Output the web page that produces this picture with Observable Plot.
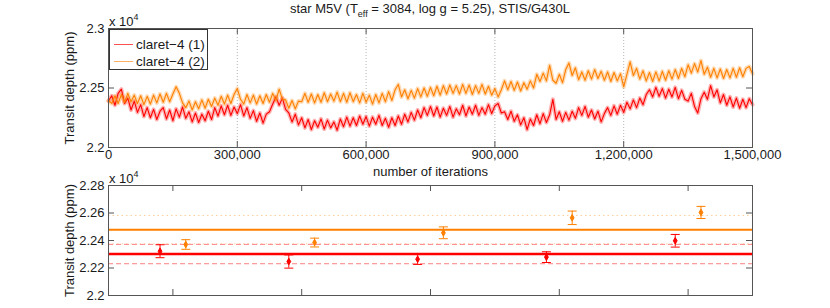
<!DOCTYPE html>
<html><head><meta charset="utf-8">
<script src="https://cdn.jsdelivr.net/npm/d3@7"></script>
<script src="https://cdn.jsdelivr.net/npm/@observablehq/plot@0.6"></script>
<style>
body{margin:0;background:#fff;}
#wrap{position:relative;width:830px;height:308px;font-family:"Liberation Sans",Arial,sans-serif;color:#1a1a1a;overflow:hidden;}
#wrap svg{position:absolute;left:0;top:0;}
.lbl{position:absolute;font-size:13px;white-space:nowrap;line-height:1;}
.sup{font-size:9px;position:relative;top:-6px;}
.sub{font-size:9px;position:relative;top:4px;}
#legend{position:absolute;left:109px;top:29px;width:97px;height:39px;border:1px solid #333;background:#fff;}
.leg{position:absolute;left:4px;font-size:13.5px;line-height:1;white-space:nowrap;}
.leg i{display:inline-block;width:19px;height:0;border-top:1px solid;vertical-align:middle;margin-right:3px;position:relative;top:-1px;}
</style></head><body>
<div id="wrap"></div>
<script>
// ---------- data ----------
const seriesNames = ["claret\u22124 (1)", "claret\u22124 (2)"];
const seriesColors = ["#ff0000", "#ff8000"];
const sampleStep = 7500; // iterations between samples
const redTrace = [
22390,22435,22355,22455,22490,22370,22415,22315,22390,22295,
22360,22260,22335,22250,22320,22235,22305,22335,22240,22315,
22225,22325,22255,22340,22245,22300,22215,22290,22210,22280,
22225,22305,22235,22335,22265,22350,22275,22355,22270,22340,
22285,22360,22265,22335,22245,22310,22220,22290,22205,22280,
22300,22365,22425,22355,22415,22320,22290,22215,22280,22190,
22250,22165,22235,22150,22225,22170,22240,22155,22230,22165,
22215,22145,22240,22175,22255,22180,22250,22185,22265,22195,
22260,22180,22255,22195,22270,22185,22245,22170,22250,22185,
22265,22195,22280,22215,22295,22230,22315,22250,22335,22270,
22345,22265,22340,22255,22330,22270,22345,22255,22325,22275,
22355,22265,22340,22280,22355,22270,22335,22280,22360,22285,
22350,22370,22290,22300,22235,22305,22220,22275,22190,22250,
22150,22240,22185,22275,22200,22285,22210,22275,22405,22235,
22300,22220,22295,22230,22305,22245,22335,22270,22345,22255,
22315,22240,22305,22215,22285,22335,22270,22350,22280,22355,
22295,22380,22325,22400,22335,22415,22360,22445,22485,22425,
22505,22430,22495,22415,22490,22425,22505,22410,22480,22405,
22390,22455,22345,22290,22410,22465,22405,22520,22425,22485,
22375,22445,22355,22425,22340,22415,22330,22405,22335,22410,
22360];
const orangeTrace = [
22395,22370,22435,22370,22445,22380,22455,22385,22440,22370,
22435,22360,22430,22365,22440,22375,22450,22380,22455,22385,
22450,22510,22455,22375,22335,22390,22315,22385,22325,22400,
22330,22405,22345,22415,22355,22430,22365,22440,22370,22445,
22495,22405,22365,22445,22375,22440,22365,22435,22370,22445,
22380,22455,22395,22490,22405,22400,22330,22395,22325,22390,
22385,22455,22380,22450,22375,22445,22380,22460,22385,22450,
22390,22465,22385,22455,22380,22460,22385,22445,22375,22455,
22380,22440,22365,22445,22375,22455,22385,22470,22395,22485,
22530,22425,22485,22410,22480,22415,22495,22425,22500,22430,
22505,22435,22515,22440,22520,22450,22525,22455,22520,22450,
22530,22455,22525,22445,22520,22455,22530,22450,22515,22440,
22495,22425,22485,22560,22485,22555,22480,22550,22475,22545,
22490,22560,22500,22615,22555,22625,22560,22690,22565,22540,
22615,22545,22655,22710,22605,22670,22570,22635,22565,22645,
22575,22655,22580,22640,22565,22635,22555,22630,22560,22620,
22510,22615,22720,22605,22665,22575,22645,22560,22630,22555,
22635,22560,22640,22565,22645,22575,22655,22580,22665,22595,
22695,22625,22705,22635,22730,22615,22675,22590,22665,22585,
22660,22580,22655,22585,22665,22590,22670,22595,22665,22680,
22620];
const topXTicks = [0, 300000, 600000, 900000, 1200000, 1500000];
const topYTicks = [22000, 22500, 23000];

// bottom panel
const groups = [1, 2, 3, 4, 5];
const redMeans = [22322, 22247, 22264, 22279, 22398];
const redErrs = [47, 48, 38, 39, 46];
const orangeMeans = [22371, 22385, 22456, 22565, 22604];
const orangeErrs = [35, 32, 43, 49, 44];
const redLevel = 22302, redLow = 22231, redHigh = 22372;
const orangeLevel = 22478, orangeLow = 22375, orangeHigh = 22582;
const bottomYTicks = [22000, 22200, 22400, 22600, 22800];

// ---------- build ----------
const W = 830, H = 308;
const fmtY = d => String(d / 10000);
const styleBase = {background: "transparent", fontFamily: '"Liberation Sans", Arial, sans-serif', fontSize: "13px", color: "#1a1a1a", overflow: "visible"};
const axisCol = "#555";

const redData = redTrace.map((v, i) => ({iter: i * sampleStep, v}));
const orangeData = orangeTrace.map((v, i) => ({iter: i * sampleStep, v}));
const innerX = topXTicks.slice(1, -1);

const topFrameH = 147 - 28, frameW = 752 - 108;
const topPlot = Plot.plot({
  width: W, height: H,
  marginLeft: 108, marginRight: W - 752, marginTop: 28, marginBottom: H - 147,
  style: styleBase,
  x: {domain: [0, 1500000], ticks: topXTicks, tickFormat: d3.format(","), tickSize: 0, tickPadding: 2, label: null},
  y: {domain: [22000, 23000], ticks: topYTicks, tickFormat: fmtY, tickSize: 0, tickPadding: 4, label: null},
  marks: [
    Plot.ruleX(innerX, {x: d => d, stroke: "#b5b5b5", strokeDasharray: "1,2"}),
    Plot.line(redData, {x: "iter", y: "v", stroke: seriesColors[0], strokeWidth: 4, strokeOpacity: 0.3}),
    Plot.line(redData, {x: "iter", y: "v", stroke: seriesColors[0], strokeWidth: 1.1}),
    Plot.line(orangeData, {x: "iter", y: "v", stroke: seriesColors[1], strokeWidth: 4, strokeOpacity: 0.3}),
    Plot.line(orangeData, {x: "iter", y: "v", stroke: seriesColors[1], strokeWidth: 1.1}),
    Plot.tickX(innerX, {x: d => d, insetBottom: topFrameH - 6, stroke: axisCol}),
    Plot.tickX(innerX, {x: d => d, insetTop: topFrameH - 6, stroke: axisCol}),
    Plot.tickY([22500], {y: d => d, insetRight: frameW - 6, stroke: axisCol}),
    Plot.tickY([22500], {y: d => d, insetLeft: frameW - 6, stroke: axisCol}),
    Plot.frame({stroke: axisCol}),
    Plot.text(["number of iterations"], {frameAnchor: "bottom", dy: 24, lineAnchor: "middle", textAnchor: "middle", fill: "#1a1a1a"}),
    Plot.text(["Transit depth (ppm)"], {frameAnchor: "left", dx: -39, rotate: -90, textAnchor: "middle", lineAnchor: "middle", fill: "#1a1a1a"})
  ]
});

const capSymbol = {draw(ctx, size) { const r = Math.sqrt(size / Math.PI); ctx.moveTo(-r, 0); ctx.lineTo(r, 0); }};
const pts = [];
groups.forEach((g, i) => {
  pts.push({g, s: 0, m: redMeans[i], e: redErrs[i]});
  pts.push({g, s: 1, m: orangeMeans[i], e: orangeErrs[i]});
});
const px = d => d.g + (d.s === 0 ? -0.1 : 0.1);
const pc = d => seriesColors[d.s];
const botFrameH = 295 - 185;
const botPlot = Plot.plot({
  width: W, height: H,
  marginLeft: 108, marginRight: W - 752, marginTop: 185, marginBottom: H - 295,
  style: styleBase,
  x: {domain: [0.5, 5.5], axis: null},
  y: {domain: [22000, 22800], ticks: bottomYTicks, tickFormat: fmtY, tickSize: 0, tickPadding: 4, label: null},
  marks: [
    Plot.ruleY([orangeLow, orangeHigh], {y: d => d, stroke: "#ffcf9c", strokeWidth: 1, strokeDasharray: "1.5,3"}),
    Plot.ruleY([redLow, redHigh], {y: d => d, stroke: "#ff8080", strokeWidth: 1, strokeDasharray: "5,3"}),
    Plot.ruleY([orangeLevel], {y: d => d, stroke: seriesColors[1], strokeWidth: 2}),
    Plot.ruleY([redLevel], {y: d => d, stroke: seriesColors[0], strokeWidth: 2.5}),
    Plot.ruleX(pts, {x: px, y1: d => d.m - d.e, y2: d => d.m + d.e, stroke: pc, strokeWidth: 1}),
    Plot.dot(pts, {x: px, y: d => d.m - d.e, symbol: capSymbol, r: 4.5, fill: "none", stroke: pc, strokeWidth: 1}),
    Plot.dot(pts, {x: px, y: d => d.m + d.e, symbol: capSymbol, r: 4.5, fill: "none", stroke: pc, strokeWidth: 1}),
    Plot.dot(pts, {x: px, y: "m", symbol: "diamond", r: 2, fill: pc, stroke: pc, strokeWidth: 1}),
    Plot.tickX(groups, {x: d => d, insetBottom: botFrameH - 6, stroke: axisCol}),
    Plot.tickX(groups, {x: d => d, insetTop: botFrameH - 6, stroke: axisCol}),
    Plot.tickY(bottomYTicks.slice(1, -1), {y: d => d, insetRight: frameW - 6, stroke: axisCol}),
    Plot.tickY(bottomYTicks.slice(1, -1), {y: d => d, insetLeft: frameW - 6, stroke: axisCol}),
    Plot.frame({stroke: axisCol}),
    Plot.text(["Transit depth (ppm)"], {frameAnchor: "left", dx: -39, rotate: -90, textAnchor: "middle", lineAnchor: "middle", fill: "#1a1a1a"})
  ]
});

const wrap = document.getElementById("wrap");
wrap.appendChild(topPlot);
wrap.appendChild(botPlot);

function addLabel(html, css) {
  const d = document.createElement("div");
  d.className = "lbl";
  d.innerHTML = html;
  Object.assign(d.style, css);
  wrap.appendChild(d);
  return d;
}
addLabel('star M5V (T<span class="sub">eff</span> = 3084, log g = 5.25), STIS/G430L', {left: "0px", width: "860px", textAlign: "center", top: "2px"});
addLabel('x 10<span class="sup">4</span>', {left: "109px", top: "15px"});
addLabel('x 10<span class="sup">4</span>', {left: "109px", top: "172px"});

const leg = document.createElement("div");
leg.id = "legend";
seriesNames.forEach((n, i) => {
  const e = document.createElement("div");
  e.className = "leg";
  e.style.top = (i === 0 ? 8 : 25) + "px";
  e.innerHTML = `<i style="border-color:${i === 0 ? '#ff5050' : '#ffb060'}"></i>${n}`;
  leg.appendChild(e);
});
wrap.appendChild(leg);
</script>
</body></html>
